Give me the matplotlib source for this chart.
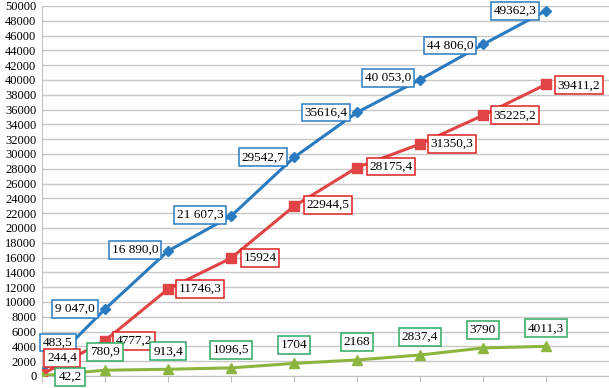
import numpy as np
import matplotlib.pyplot as plt

plt.rcParams['font.family'] = ['Liberation Serif', 'DejaVu Serif']

# data
blue = [483.5, 9047.0, 16890.0, 21607.3, 29542.7, 35616.4, 40053.0, 44806.0, 49362.3]
red = [244.4, 4777.2, 11746.3, 15924, 22944.5, 28175.4, 31350.3, 35225.2, 39411.2]
green = [42.2, 780.9, 913.4, 1096.5, 1704, 2168, 2837.4, 3790, 4011.3]

blue_lbl = ['483,5', '9 047,0', '16 890,0', '21 607,3', '29542,7', '35616,4',
            '40 053,0', '44 806,0', '49362,3']
red_lbl = ['244,4', '4777,2', '11746,3', '15924', '22944,5', '28175,4',
           '31350,3', '35225,2', '39411,2']
green_lbl = ['42,2', '780,9', '913,4', '1096,5', '1704', '2168', '2837,4',
             '3790', '4011,3']

# label offsets in pixels (dx, dy)
blue_off = [(16, 30), (-30, 0), (-33, 1), (-31, 1), (-31, 0), (-31, 0),
            (-32, 2), (-33, -1), (-31, 0)]
red_off = [(20, 16), (29, 0), (32, 0), (29, 0), (34, 1), (34, 1),
           (32, 0), (32, 0), (33, -1)]
green_off = [(28, -1)] + [(0, 18)] * 8

x = np.arange(len(blue))

fig = plt.figure(figsize=(6.09, 3.88), dpi=100)
ax = fig.add_axes([42/609, 12/388, 567/609, 370/388])

ax.plot(x, blue, color='#2a7ac0', lw=2.2, marker='D', ms=5, zorder=3)
ax.plot(x, red, color='#e04444', lw=2.2, marker='s', ms=7, zorder=3)
ax.plot(x, green, color='#8cb53f', lw=2.2, marker='^', ms=7, zorder=3)

def labels(vals, lbls, offs, ec):
    for i, (v, t, o) in enumerate(zip(vals, lbls, offs)):
        ax.annotate(t, (i, v), xytext=o, textcoords='offset pixels',
                    ha='center', va='center', fontsize=9.5, color='black',
                    bbox=dict(boxstyle='square,pad=0.22', fc='white', ec=ec, lw=1.1),
                    zorder=4)

labels(blue, blue_lbl, blue_off, '#2a7ac0')
labels(red, red_lbl, red_off, '#e02020')
labels(green, green_lbl, green_off, '#2eaa60')

ax.set_xlim(0, 9)
ax.set_ylim(0, 50000)
ax.set_yticks(np.arange(0, 50001, 2000))
ax.set_xticks(np.arange(0, 10))
ax.set_xticklabels([])
ax.tick_params(axis='y', length=0, labelsize=9, pad=4)
ax.tick_params(axis='x', length=4, color='#bfbfbf', direction='out')
ax.grid(axis='y', color='#c8c8c8', lw=1)
ax.set_axisbelow(True)
for s in ['top', 'right']:
    ax.spines[s].set_visible(False)
ax.spines['left'].set_color('#bfbfbf')
ax.spines['bottom'].set_color('#bfbfbf')

fig.savefig('out.png', dpi=100)
